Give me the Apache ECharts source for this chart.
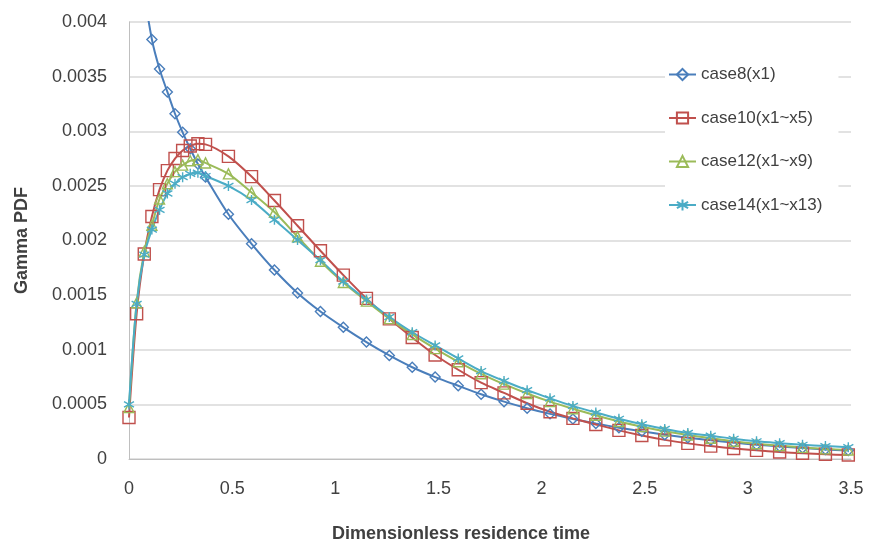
<!DOCTYPE html>
<html>
<head>
<meta charset="utf-8">
<title>Gamma PDF</title>
<script src="https://cdn.jsdelivr.net/npm/echarts@6.0.0/dist/echarts.min.js"></script>
<style>
  html, body { margin: 0; padding: 0; background: #fff; }
  #main { width: 869px; height: 548px; }
</style>
</head>
<body>
<div id="main"></div>
<script>
// dimensionless residence time at each sample
var times = [0, 0.037, 0.074, 0.111, 0.148, 0.186, 0.223, 0.260, 0.297, 0.334, 0.371,
  0.482, 0.594, 0.705, 0.817, 0.928, 1.039, 1.151, 1.262, 1.373, 1.484,
  1.596, 1.707, 1.818, 1.930, 2.041, 2.152, 2.263, 2.375, 2.486, 2.597,
  2.709, 2.820, 2.931, 3.042, 3.154, 3.265, 3.376, 3.487];

var case8 = [0.0072, 0.0052, 0.0043, 0.00384, 0.00357, 0.00336, 0.00316, 0.00299, 0.00284, 0.0027, 0.00258,
  0.00224, 0.00197, 0.00173, 0.00152, 0.00135, 0.001205, 0.00107, 0.000948, 0.00084, 0.00075,
  0.00067, 0.000593, 0.000525, 0.000465, 0.000413, 0.000367, 0.000325, 0.000287, 0.000253, 0.000222,
  0.000195, 0.000171, 0.00015, 0.000131, 0.000115, 0.0001, 0.000088, 0.000077];

var case10 = [0.00038, 0.00133, 0.001877, 0.00222, 0.002466, 0.00264, 0.00275, 0.002824, 0.002865, 0.002885, 0.00288,
  0.00277, 0.002585, 0.002366, 0.002135, 0.001906, 0.001683, 0.00147, 0.001283, 0.001112, 0.000952,
  0.000817, 0.000699, 0.000605, 0.00051, 0.000432, 0.000372, 0.000316, 0.000262, 0.000215, 0.000175,
  0.000143, 0.000118, 0.000096, 0.000079, 0.000064, 0.000052, 0.000043, 0.000036];

var case12 = [0.00047, 0.00143, 0.0019, 0.00214, 0.00238, 0.00252, 0.00263, 0.00269, 0.00273, 0.00274, 0.00271,
  0.00261, 0.00244, 0.00226, 0.002035, 0.00181, 0.001615, 0.001445, 0.001285, 0.00114, 0.00101,
  0.00089, 0.00078, 0.000685, 0.0006, 0.000525, 0.00046, 0.0004, 0.000343, 0.000296, 0.000255,
  0.00022, 0.00019, 0.000163, 0.00014, 0.000122, 0.000106, 0.000093, 0.000082];

var case14 = [0.0005, 0.00142, 0.00187, 0.0021, 0.00228, 0.00243, 0.00252, 0.00258, 0.00261, 0.00262, 0.00259,
  0.0025, 0.00237, 0.00219, 0.002005, 0.00182, 0.001625, 0.001458, 0.0013, 0.00116, 0.00104,
  0.00092, 0.000805, 0.000714, 0.00063, 0.000555, 0.000486, 0.000425, 0.000368, 0.000318, 0.000275,
  0.000238, 0.000213, 0.000185, 0.000162, 0.000145, 0.00013, 0.000118, 0.000108];

var seriesNames = ["case8(x1)", "case10(x1~x5)", "case12(x1~x9)", "case14(x1~x13)"];

function pairs(ys) {
  return times.map(function (t, i) { return [t, ys[i]]; });
}

// asterisk-like marker
var starPath = "path://M5 0 L5 10 M1.2 2.2 L8.8 7.8 M8.8 2.2 L1.2 7.8";

function makeSeries(name, ys, color, symbol, size) {
  return {
    name: name,
    type: "line",
    data: pairs(ys),
    smooth: 0.3,
    symbol: symbol,
    symbolSize: size,
    showAllSymbol: true,
    lineStyle: { color: color, width: 2 },
    itemStyle: { color: "rgba(255,255,255,0)", borderColor: color, borderWidth: 1.4 },
    emphasis: { disabled: true }
  };
}

var chart = echarts.init(document.getElementById("main"));
chart.setOption({
  animation: false,
  textStyle: { fontFamily: "Liberation Sans, Arial, sans-serif" },
  grid: { left: 129, right: 18, top: 22, bottom: 88 },
  legend: {
    orient: "vertical",
    left: 665,
    top: 60,
    padding: [6, 16, 6, 3],
    itemWidth: 27,
    itemHeight: 14,
    itemGap: 26.5,
    itemTextGap: 1,
    backgroundColor: "#fff",
    textStyle: { fontSize: 17, color: "#404040" },
    data: seriesNames
  },
  xAxis: {
    type: "value",
    min: 0,
    max: 3.5,
    interval: 0.5,
    name: "Dimensionless residence time",
    nameLocation: "middle",
    nameGap: 66,
    nameTextStyle: { fontSize: 18, fontWeight: "bold", color: "#404040", padding: [0, 58, 0, 0] },
    axisLine: { lineStyle: { color: "#bfbfbf", width: 1 } },
    axisTick: { show: false },
    axisLabel: { fontSize: 18, color: "#404040", margin: 21 },
    splitLine: { show: false }
  },
  yAxis: {
    type: "value",
    min: 0,
    max: 0.004,
    interval: 0.0005,
    name: "Gamma PDF",
    nameLocation: "middle",
    nameGap: 98,
    nameTextStyle: { fontSize: 18, fontWeight: "bold", color: "#404040" },
    axisLine: { show: true, lineStyle: { color: "#bfbfbf", width: 1 } },
    axisTick: { show: false },
    axisLabel: { fontSize: 18, color: "#404040", margin: 22 },
    splitLine: { lineStyle: { color: "#d9d9d9", width: 1.5 } }
  },
  series: [
    makeSeries(seriesNames[0], case8, "#4a7ebb", "diamond", 10),
    makeSeries(seriesNames[1], case10, "#c0504d", "rect", 12),
    makeSeries(seriesNames[2], case12, "#9bbb59", "triangle", 10),
    makeSeries(seriesNames[3], case14, "#4bacc6", starPath, 10)
  ]
});
</script>
</body>
</html>
